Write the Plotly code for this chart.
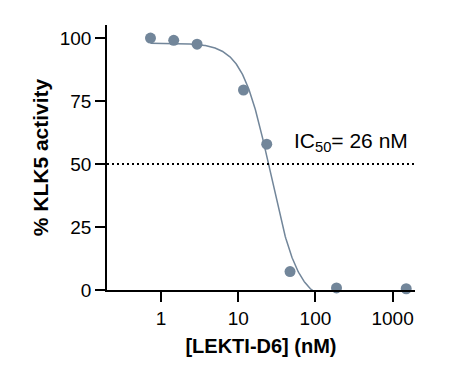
import numpy as np
import plotly.graph_objects as go

# Data
conc_nM = [0.73, 1.46, 2.93, 11.7, 23.4, 46.9, 187.5, 1500]
activity_pct = [100.0, 99.1, 97.6, 79.4, 57.9, 7.3, 0.8, 0.5]

# 4-parameter logistic fit parameters
fit_top = 98.0
fit_bottom = -5.0
fit_ic50 = 26.0
fit_hill = 2.4

x_ticks = [1, 10, 100, 1000]
x_ticklabels = ["1", "10", "100", "1000"]
y_ticks = [0, 25, 50, 75, 100]
y_ticklabels = ["0", "25", "50", "75", "100"]

color = "#72869A"
font_family = "Liberation Sans, Arial, sans-serif"

xc = np.logspace(np.log10(conc_nM[0]), np.log10(conc_nM[-1]), 500)
yc = fit_bottom + (fit_top - fit_bottom) / (1 + (xc / fit_ic50) ** fit_hill)

fig = go.Figure()
fig.add_trace(go.Scatter(x=xc, y=yc, mode="lines",
                         line=dict(color=color, width=1.5),
                         hoverinfo="skip", showlegend=False))
fig.add_trace(go.Scatter(x=conc_nM, y=activity_pct, mode="markers",
                         marker=dict(color=color, size=11),
                         cliponaxis=False, showlegend=False))

fig.add_shape(type="line", xref="paper", yref="y", x0=0, x1=1, y0=50, y1=50,
              line=dict(color="black", width=2, dash="2px,3px"))

fig.add_annotation(x=np.log10(49.0), y=58.8, xref="x", yref="y",
                   text="IC<sub>50</sub>= 26 nM", showarrow=False,
                   xanchor="left", yanchor="middle",
                   font=dict(family=font_family, size=21, color="black"))

fig.update_xaxes(type="log", range=[-0.70, 3.29],
                 tickvals=x_ticks, ticktext=x_ticklabels,
                 ticks="outside", ticklen=10, tickwidth=1.5, tickcolor="black",
                 showline=True, linecolor="black", linewidth=1.5,
                 showgrid=False, zeroline=False,
                 tickfont=dict(family=font_family, size=19, color="black"),
                 title=dict(text="<b>[LEKTI-D6] (nM)</b>", standoff=11,
                            font=dict(family=font_family, size=20, color="black")))
fig.update_yaxes(range=[0, 105.2],
                 tickvals=y_ticks, ticktext=y_ticklabels,
                 ticks="outside", ticklen=10, tickwidth=1.5, tickcolor="black",
                 showline=True, linecolor="black", linewidth=1.5,
                 showgrid=False, zeroline=False,
                 tickfont=dict(family=font_family, size=19, color="black"),
                 title=dict(text="<b>% KLK5 activity</b>", standoff=5,
                            font=dict(family=font_family, size=21, color="black")))

fig.update_layout(width=460, height=378,
                  margin=dict(l=99, r=53, t=17, b=96, autoexpand=False),
                  plot_bgcolor="white", paper_bgcolor="white",
                  showlegend=False)

fig.write_html("out.html")
